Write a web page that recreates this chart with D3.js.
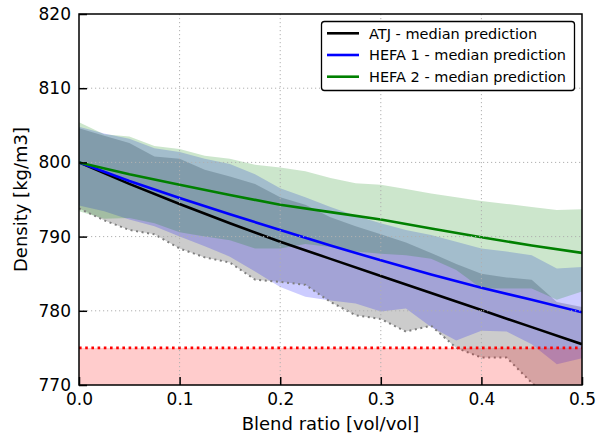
<!DOCTYPE html>
<html><head><meta charset="utf-8">
<script src="https://cdn.jsdelivr.net/npm/d3@7"></script>
<style>body{margin:0;background:#fff} svg{display:block} text{font-family:"DejaVu Sans",sans-serif}</style>
</head><body><svg id="c" width="605" height="443"></svg>
<script>
// ---- data ----
const bandX = [0,0.025,0.05,0.075,0.1,0.125,0.15,0.175,0.2,0.225,0.25,0.275,0.3,0.325,0.35,0.375,0.4,0.425,0.45,0.475,0.5];
const atjUpper   = [804.6,803.6,802.6,800.8,800.5,799.0,798.1,797.1,795.3,794.3,792.6,791.4,790.3,789.2,787.8,786.3,785.0,784.5,784.2,781.2,780.5];
const atjLower   = [793.8,792.2,790.9,790.3,788.4,787.2,786.5,784.2,783.9,783.5,781.2,779.4,778.9,777.2,778.0,775.0,773.7,773.7,770.3,767.5,766.0];
const hefa1Upper = [804.8,803.9,803.2,801.9,801.4,800.5,799.8,798.4,796.5,795.3,794.0,792.8,791.8,790.9,790.2,789.3,788.4,788.0,787.5,785.7,785.9];
const hefa1Lower = [794.2,793.4,792.3,791.4,790.0,788.7,787.3,785.3,783.2,781.9,781.4,781.0,779.9,780.3,777.8,776.0,777.3,777.2,775.5,772.8,773.6];
const hefa2Upper = [805.4,803.8,803.5,802.2,801.8,800.9,800.5,799.7,799.3,798.8,797.9,797.2,797.0,796.4,795.8,795.3,794.8,794.4,794.0,793.6,793.7];
const hefa2Lower = [793.4,792.4,792.5,791.8,790.6,790.0,789.5,788.4,788.4,789.0,788.6,788.0,787.7,787.5,787.0,785.5,783.0,783.0,783.0,781.5,782.6];

const lineX       = [0,0.05,0.1,0.15,0.2,0.25,0.3,0.35,0.4,0.45,0.5];
const atjMedian   = [800,797.1,794.4,791.8,789.3,787.0,784.7,782.4,780.1,777.8,775.5];
const hefa1Median = [800,797.5,795.2,793.0,790.9,788.8,786.8,784.9,783.1,781.5,779.8];
const hefa2Median = [800,798.4,797.0,795.6,794.3,793.3,792.3,791.1,789.9,788.8,787.8];

const limitValue = 775;
const xTicks = [0,0.1,0.2,0.3,0.4,0.5];
const xTickLabels = ["0.0","0.1","0.2","0.3","0.4","0.5"];
const yTicks = [770,780,790,800,810,820];
const legendLabels = ["ATJ - median prediction","HEFA 1 - median prediction","HEFA 2 - median prediction"];
const seriesColors = ["black","blue","green"];

// ---- layout ----
const L = 79, R = 582, T = 14, B = 385;
const svg = d3.select("#c");
const x = d3.scaleLinear().domain([0,0.5]).range([L,R]);
const y = d3.scaleLinear().domain([770,820]).range([B,T]);

svg.append("defs").append("clipPath").attr("id","clip")
  .append("rect").attr("x",L).attr("y",T).attr("width",R-L).attr("height",B-T);
const plot = svg.append("g").attr("clip-path","url(#clip)");

const band = (lo,hi) => d3.area().x((d,i)=>x(bandX[i])).y0((d,i)=>y(lo[i])).y1((d,i)=>y(hi[i]))(bandX);
const bands = [[atjLower,atjUpper],[hefa1Lower,hefa1Upper],[hefa2Lower,hefa2Upper]];
bands.forEach((b,k)=>{
  plot.append("path").attr("d",band(b[0],b[1])).attr("fill",seriesColors[k]).attr("fill-opacity",0.2);
});
// lower ATJ edge dotted
plot.append("path")
  .attr("d", d3.line().x((d,i)=>x(bandX[i])).y((d,i)=>y(atjLower[i]))(bandX))
  .attr("fill","none").attr("stroke","#7f7f7f").attr("stroke-width",2).attr("stroke-dasharray","2,3.6");

// red limit region
plot.append("rect").attr("x",L).attr("width",R-L).attr("y",y(limitValue)).attr("height",y(770)-y(limitValue))
  .attr("fill","red").attr("fill-opacity",0.2);

// grid
const grid = svg.append("g");
xTicks.slice(1,-1).forEach(t=>{
  grid.append("line").attr("x1",x(t)).attr("x2",x(t)).attr("y1",T).attr("y2",B)
    .attr("stroke","#b0b0b0").attr("stroke-width",1).attr("stroke-dasharray","1.2,2.8");
});
yTicks.slice(1,-1).forEach(t=>{
  grid.append("line").attr("x1",L).attr("x2",R).attr("y1",y(t)).attr("y2",y(t))
    .attr("stroke","#b0b0b0").attr("stroke-width",1).attr("stroke-dasharray","1.2,2.8");
});

// red dotted line
plot.append("line").attr("x1",L).attr("x2",R).attr("y1",y(limitValue)).attr("y2",y(limitValue))
  .attr("stroke","red").attr("stroke-width",2.6).attr("stroke-dasharray","2.6,3.6");

// median lines
const medians = [atjMedian,hefa1Median,hefa2Median];
medians.forEach((m,k)=>{
  plot.append("path").attr("d", d3.line().x((d,i)=>x(lineX[i])).y((d,i)=>y(m[i]))(lineX))
    .attr("fill","none").attr("stroke",seriesColors[k]).attr("stroke-width",2.6);
});

// axes
const xa = svg.append("g").attr("transform",`translate(0,${B})`)
  .call(d3.axisBottom(x).tickValues(xTicks).tickFormat((d,i)=>xTickLabels[i]).tickSize(-8).tickPadding(8));
const ya = svg.append("g").attr("transform",`translate(${L},0)`)
  .call(d3.axisLeft(y).tickValues(yTicks).tickSize(-8).tickPadding(8));
[xa,ya].forEach(a=>{
  a.select(".domain").remove();
  a.selectAll("line").attr("stroke","black").attr("stroke-width",1.5);
  a.selectAll("text").attr("font-size",17).attr("fill","black").attr("font-family","DejaVu Sans");
});

// frame
svg.append("rect").attr("x",L).attr("y",T).attr("width",R-L).attr("height",B-T)
  .attr("fill","none").attr("stroke","black").attr("stroke-width",1.5);

// axis labels
svg.append("text").attr("x",(L+R)/2).attr("y",430).attr("text-anchor","middle")
  .attr("font-size",18).text("Blend ratio [vol/vol]");
svg.append("text").attr("transform",`translate(27,${(T+B)/2}) rotate(-90)`).attr("text-anchor","middle")
  .attr("font-size",18).text("Density [kg/m3]");

// legend
const lg = svg.append("g");
lg.append("rect").attr("x",321.5).attr("y",21.5).attr("width",253).attr("height",69).attr("rx",3)
  .attr("fill","white").attr("stroke","black").attr("stroke-width",1.3);
legendLabels.forEach((t,k)=>{
  const cy = 33.3 + k*21.7;
  lg.append("line").attr("x1",327).attr("x2",359).attr("y1",cy).attr("y2",cy)
    .attr("stroke",seriesColors[k]).attr("stroke-width",2.6);
  lg.append("text").attr("x",369).attr("y",cy).attr("dy","0.36em").attr("font-size",14.5).text(t);
});
</script></body></html>
